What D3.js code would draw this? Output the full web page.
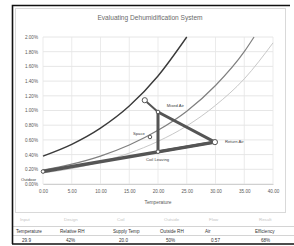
<!DOCTYPE html>
<html>
<head>
<meta charset="utf-8">
<script src="https://cdn.jsdelivr.net/npm/d3@7"></script>
<style>
  body { margin: 0; background: #fff; }
  text { font-family: "Liberation Sans", Arial, sans-serif; }
</style>
</head>
<body>
<div id="chart"></div>
<script>
// axis ticks
const tempTicks = [0, 5, 10, 15, 20, 25, 30, 35, 40];
const ratioTicks = [0, 0.2, 0.4, 0.6, 0.8, 1.0, 1.2, 1.4, 1.6, 1.8, 2.0];

// saturation (100% RH) curve
const satT = [0, 5, 10, 15, 20, 25];
const satW = [0.38, 0.54, 0.76, 1.06, 1.47, 2.00];
// 50% RH curve
const rh50T = [0, 5, 10, 15, 20, 25, 30, 35, 36.7];
const rh50W = [0.19, 0.27, 0.38, 0.53, 0.73, 0.99, 1.34, 1.80, 2.00];
// 40% RH curve
const rh40T = [0, 5, 10, 15, 20, 25, 30, 35, 40];
const rh40W = [0.15, 0.21, 0.30, 0.42, 0.58, 0.79, 1.07, 1.43, 1.92];

// process points
const pointNames = ["Outdoor", "Mixed Air", "Coil Entering", "Coil Leaving", "Return Air", "Space"];
const pointT = [0, 17.7, 20, 20, 29.9, 18.6];
const pointW = [0.17, 1.14, 0.98, 0.44, 0.57, 0.64];

// process lines (index pairs into the point arrays) and their weight
const segFrom = [0, 1, 2, 2, 3];
const segTo = [4, 2, 3, 4, 4];
const segWidth = [3.5, 2, 3, 3, 2.5];

// spreadsheet cells under the chart
const faintCells = ["Input", "Design", "Coil", "Outside", "Flow", "Result"];
const headerCells = ["Temperature", "Relative RH", "Supply Temp", "Outside RH", "Air", "Efficiency"];
const valueCells = ["29.9", "42%", "20.0", "50%", "0.57", "68%"];

const W = 294, H = 246;
const svg = d3.select("#chart").append("svg")
    .attr("width", W).attr("height", H);

svg.append("rect").attr("width", W).attr("height", H).attr("fill", "#fff");

// chart frame
svg.append("rect")
    .attr("x", 15.5).attr("y", 8.5).attr("width", 270).attr("height", 204)
    .attr("fill", "#fff").attr("stroke", "#d9d9d9");

const margin = { top: 37, left: 43, right: 21, bottom: 62 };
const x = d3.scaleLinear().domain([0, 40]).range([margin.left, W - margin.right]);
const y = d3.scaleLinear().domain([0, 2]).range([H - margin.bottom, margin.top]);

// gridlines
svg.append("g").selectAll("line").data(ratioTicks).enter().append("line")
    .attr("x1", x(0)).attr("x2", x(40))
    .attr("y1", d => y(d)).attr("y2", d => y(d))
    .attr("stroke", "#e0e0e0").attr("stroke-width", 0.8);
svg.append("g").selectAll("line").data(tempTicks).enter().append("line")
    .attr("x1", d => x(d)).attr("x2", d => x(d))
    .attr("y1", y(0)).attr("y2", y(2))
    .attr("stroke", "#e6e6e6").attr("stroke-width", 0.8);

// axes
const yAxis = svg.append("g")
    .attr("transform", `translate(${margin.left},0)`)
    .call(d3.axisLeft(y).tickValues(ratioTicks).tickSize(0).tickPadding(5)
        .tickFormat(d => d.toFixed(2) + "%"));
yAxis.select(".domain").remove();
yAxis.selectAll("text").attr("font-size", 4.6).attr("fill", "#595959");

const xAxis = svg.append("g")
    .attr("transform", `translate(0,${y(0)})`)
    .call(d3.axisBottom(x).tickValues(tempTicks).tickSize(0).tickPadding(6)
        .tickFormat(d => d.toFixed(2)));
xAxis.select(".domain").attr("stroke", "#d0d0d0");
xAxis.selectAll("text").attr("font-size", 4.6).attr("fill", "#595959");

svg.append("text").attr("x", (x(0) + x(40)) / 2).attr("y", 204)
    .attr("text-anchor", "middle").attr("font-size", 4.8).attr("fill", "#595959")
    .text("Temperature");

svg.append("text").attr("x", 150).attr("y", 20)
    .attr("text-anchor", "middle").attr("font-size", 6.6).attr("fill", "#6a6a6a")
    .text("Evaluating Dehumidification System");

// curves
const line = d3.line().x(d => x(d[0])).y(d => y(d[1])).curve(d3.curveMonotoneX);
const curve = (ts, ws) => ts.map((t, i) => [t, ws[i]]);

svg.append("path").datum(curve(rh40T, rh40W)).attr("d", line)
    .attr("fill", "none").attr("stroke", "#c8c8c8").attr("stroke-width", 1);
svg.append("path").datum(curve(rh50T, rh50W)).attr("d", line)
    .attr("fill", "none").attr("stroke", "#808080").attr("stroke-width", 1.2);
svg.append("path").datum(curve(satT, satW)).attr("d", line)
    .attr("fill", "none").attr("stroke", "#3a3a3a").attr("stroke-width", 1.4);

// process lines
svg.append("g").selectAll("line").data(segFrom).enter().append("line")
    .attr("x1", d => x(pointT[d])).attr("y1", d => y(pointW[d]))
    .attr("x2", (d, i) => x(pointT[segTo[i]])).attr("y2", (d, i) => y(pointW[segTo[i]]))
    .attr("stroke", "#555").attr("stroke-width", (d, i) => segWidth[i])
    .attr("stroke-linecap", "round");

// points
svg.append("g").selectAll("circle").data(pointNames).enter().append("circle")
    .attr("cx", (d, i) => x(pointT[i])).attr("cy", (d, i) => y(pointW[i]))
    .attr("r", (d, i) => (i === 1 || i === 4) ? 2.6 : 1.8)
    .attr("fill", "#fff").attr("stroke", "#555").attr("stroke-width", 1);

// point labels
const labelDx = [-22, 22, 0, -12, 10, -17];
const labelDy = [9, 7, 0, 9, 1, -2];
const labelIdx = [0, 1, 3, 4, 5];
svg.append("g").selectAll("text").data(labelIdx).enter().append("text")
    .attr("x", i => x(pointT[i]) + labelDx[i])
    .attr("y", i => y(pointW[i]) + labelDy[i])
    .attr("font-size", 4.2).attr("fill", "#404040")
    .text(i => pointNames[i]);

// spreadsheet cells below chart
svg.append("line").attr("x1", 12).attr("x2", W).attr("y1", 226.5).attr("y2", 226.5)
    .attr("stroke", "#d4d4d4");
svg.append("line").attr("x1", 12).attr("x2", W).attr("y1", 235.5).attr("y2", 235.5)
    .attr("stroke", "#d4d4d4");
const cellX = [16, 60, 113, 160, 205, 255];
svg.append("g").selectAll("text").data(faintCells).enter().append("text")
    .attr("x", (d, i) => cellX[i] + 4).attr("y", 221)
    .attr("font-size", 4.4).attr("fill", "#c4c4c4").text(d => d);
svg.append("g").selectAll("text").data(headerCells).enter().append("text")
    .attr("x", (d, i) => cellX[i]).attr("y", 233)
    .attr("font-size", 4.6).attr("fill", "#333").text(d => d);
svg.append("g").selectAll("text").data(valueCells).enter().append("text")
    .attr("x", (d, i) => cellX[i] + 6).attr("y", 242)
    .attr("font-size", 4.6).attr("fill", "#333").text(d => d);

// window border
svg.append("path").attr("d", `M12.5,${H - 2} V5.5 H290`)
    .attr("fill", "none").attr("stroke", "#111").attr("stroke-width", 1.6);
svg.append("line").attr("x1", 12).attr("x2", W).attr("y1", H - 2).attr("y2", H - 2)
    .attr("stroke", "#111").attr("stroke-width", 1.6);
</script>
</body>
</html>
